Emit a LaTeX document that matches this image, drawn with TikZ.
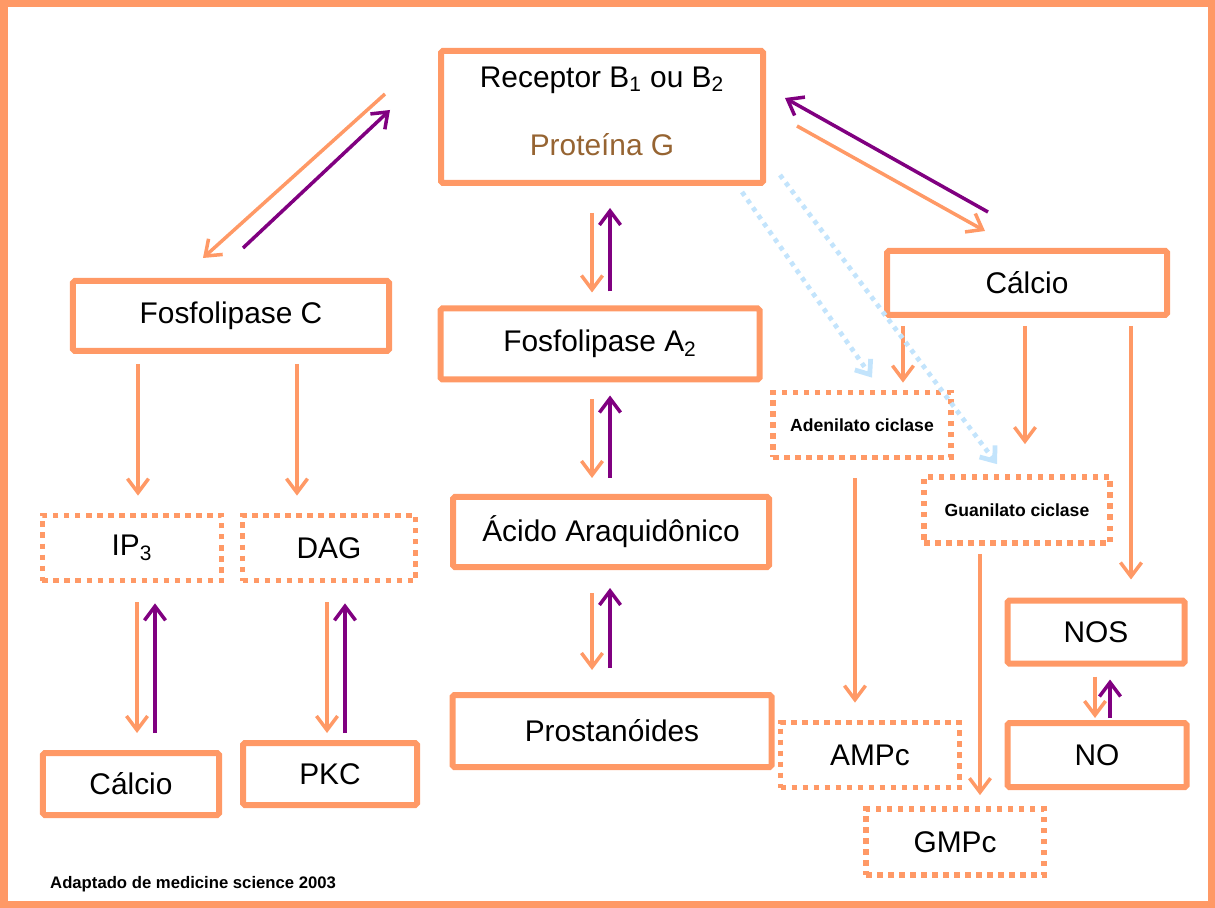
\documentclass[tikz,border=0pt]{standalone}
\usepackage{fontspec}
\setmainfont{Liberation Sans}
\usetikzlibrary{arrows.meta, calc}
\definecolor{laranja}{RGB}{255,153,102}
\definecolor{roxo}{RGB}{128,0,128}
\definecolor{azulclaro}{RGB}{195,228,252}
\definecolor{marrom}{RGB}{150,100,50}

\begin{document}
\begin{tikzpicture}[x=0.2mm,y=-0.2mm,
  caixa/.style={draw=laranja,line width=1.2mm,rounded corners=1pt,inner sep=0pt,
    font=\fontsize{17}{20}\selectfont},
  tracejada/.style={draw=laranja,line width=1.15mm,dash pattern=on 1.1mm off 1.1mm,
    inner sep=0pt,font=\fontsize{17}{20}\selectfont},
  pequena/.style={font=\fontsize{10}{12}\selectfont\bfseries},
  seta/.style={line width=0.7mm,-{Straight Barb[length=8pt,width=12pt]}},
  ida/.style={seta,laranja},
  volta/.style={seta,roxo},
  pontos/.style={line width=0.95mm,azulclaro,dash pattern=on 0.9mm off 1mm,
    -{Straight Barb[length=7pt,width=11pt]}}]
  \useasboundingbox (0,0) rectangle (1215,908);
  % moldura
  \draw[laranja,line width=1.4mm] (4,4) rectangle (1211,904);
  % receptor
  \node[caixa,minimum width=64.4mm,minimum height=26.4mm] (rec) at (602,117) {};
  \node[font=\fontsize{17}{20}\selectfont] (recT) at (602,80)
    {Receptor B\textsubscript{1} ou B\textsubscript{2}};
  \node[font=\fontsize{17}{20}\selectfont,text=marrom] (protG) at (602,145) {Proteína G};
  % caixas cheias
  \node[caixa,minimum width=63.2mm,minimum height=14mm] (fc) at (231,316) {Fosfolipase C};
  \node[caixa,minimum width=63.8mm,minimum height=14.2mm] (fa2) at (600,344)
    {Fosfolipase A\textsubscript{2}};
  \node[caixa,minimum width=63.2mm,minimum height=14mm] (aa) at (611,532) {Ácido Araquidônico};
  \node[caixa,minimum width=63.8mm,minimum height=14.4mm] (prost) at (612,731) {Prostanóides};
  \node[caixa,minimum width=56mm,minimum height=12.8mm] (calR) at (1027,283) {Cálcio};
  \node[caixa,minimum width=35.2mm,minimum height=12.4mm] (calL) at (131,784) {Cálcio};
  \node[caixa,minimum width=34.8mm,minimum height=12.4mm] (pkc) at (330,774) {PKC};
  \node[caixa,minimum width=35.4mm,minimum height=12.6mm] (nos) at (1096,632) {NOS};
  \node[caixa,minimum width=35.8mm,minimum height=12.8mm] (no) at (1097,755) {NO};
  % caixas tracejadas
  \node[tracejada,minimum width=35.8mm,minimum height=13mm] (ip3) at (132,548)
    {IP\textsubscript{3}};
  \node[tracejada,minimum width=34.6mm,minimum height=13mm] (dag) at (329,548) {DAG};
  \node[tracejada,pequena,minimum width=35.6mm,minimum height=13mm] (adc) at (862,425)
    {Adenilato ciclase};
  \node[tracejada,pequena,minimum width=37.2mm,minimum height=13.2mm] (gc) at (1017,510)
    {Guanilato ciclase};
  \node[tracejada,minimum width=35.8mm,minimum height=13mm] (ampc) at (870,755) {AMPc};
  \node[tracejada,minimum width=35.6mm,minimum height=13.2mm] (gmpc) at (955,842) {GMPc};
  % receptor <-> fosfolipase C
  \draw[ida] ($(rec.west)+(-53,-23)$) -- ($(fc.north)+(-28,-20)$);
  \draw[volta] ($(fc.north)+(12,-30)$) -- ($(rec.west)+(-48,-7)$);
  % receptor <-> calcio
  \draw[volta] ($(calR.north)+(-39,-36)$) -- ($(rec.east)+(19,-19)$);
  \draw[ida] ($(rec.east)+(31,9)$) -- ($(calR.north)+(-42,-17)$);
  % coluna central
  \draw[ida] ($(rec.south)+(-10,27)$) -- ($(fa2.north)+(-8,-13)$);
  \draw[volta] ($(fa2.north)+(10,-14)$) -- ($(rec.south)+(8,22)$);
  \draw[ida] ($(fa2.south)+(-8,17)$) -- ($(aa.north)+(-19,-16)$);
  \draw[volta] ($(aa.north)+(-1,-16)$) -- ($(fa2.south)+(10,13)$);
  \draw[ida] ($(aa.south)+(-19,23)$) -- ($(prost.north)+(-20,-22)$);
  \draw[volta] ($(prost.north)+(-2,-24)$) -- ($(aa.south)+(-1,18)$);
  % fosfolipase C
  \draw[ida] ($(fc.south)+(-93,10)$) -- ($(ip3.north)+(6,-17)$);
  \draw[ida] ($(fc.south)+(66,10)$) -- ($(dag.north)+(-32,-17)$);
  \draw[ida] ($(ip3.south)+(5,19)$) -- ($(calL.north)+(6,-17)$);
  \draw[volta] ($(calL.north)+(24,-17)$) -- ($(ip3.south)+(23,20)$);
  \draw[ida] ($(dag.south)+(-2,19)$) -- ($(pkc.north)+(-3,-7)$);
  \draw[volta] ($(pkc.north)+(15,-7)$) -- ($(dag.south)+(16,20)$);
  % calcio
  \draw[ida] ($(calR.south)+(-124,8)$) -- ($(adc.north)+(41,-7)$);
  \draw[ida] ($(calR.south)+(-2,8)$) -- ($(gc.north)+(8,-30)$);
  \draw[ida] ($(calR.south)+(104,8)$) -- ($(nos.north)+(35,-18)$);
  \draw[ida] ($(adc.south)+(-7,18)$) -- ($(ampc.north)+(-15,-17)$);
  \draw[ida] ($(gc.south)+(-37,8)$) -- ($(gmpc.north)+(25,-11)$);
  \draw[ida] ($(nos.south)+(-1,10)$) -- ($(no.north)+(-2,-2)$);
  \draw[volta] ($(no.north)+(13,-2)$) -- ($(nos.south)+(14,13)$);
  % proteina G -> ciclases
  \draw[pontos] ($(rec.south east)+(-24,6)$) -- ($(adc.north)+(10,-12)$);
  \draw[pontos] ($(rec.south east)+(14,-11)$) -- ($(gc.north)+(-20,-10)$);
  % fonte
  \node[anchor=west,font=\fontsize{9.5}{11}\selectfont\bfseries] (fonte) at (44,884)
    {Adaptado de medicine science 2003};
\end{tikzpicture}
\end{document}
